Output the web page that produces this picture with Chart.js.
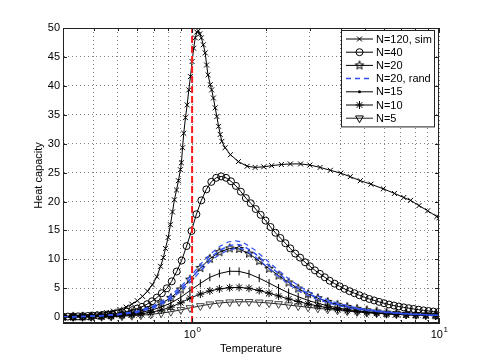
<!DOCTYPE html>
<html>
<head>
<meta charset="utf-8">
<script src="https://cdn.jsdelivr.net/npm/chart.js@4.4.1/dist/chart.umd.min.js"></script>
<style>
  html, body { margin: 0; padding: 0; background: #fff; }
  canvas { display: block; }
</style>
</head>
<body>
<canvas id="heatchart" width="484" height="364"></canvas>
<script>
// fine temperature grid, N=40
const fineTemps = [0.300, 0.314, 0.329, 0.345, 0.361, 0.378, 0.396, 0.414, 0.434, 0.454, 0.476, 0.498,
  0.522, 0.546, 0.572, 0.599, 0.627, 0.657, 0.688, 0.720, 0.754, 0.790, 0.827, 0.866, 0.907, 0.950,
  0.994, 1.041, 1.090, 1.142, 1.196, 1.252, 1.311, 1.373, 1.437, 1.505, 1.576, 1.651, 1.728, 1.810,
  1.895, 1.984, 2.078, 2.176, 2.278, 2.386, 2.498, 2.616, 2.739, 2.868, 3.003, 3.145, 3.293, 3.448,
  3.610, 3.780, 3.958, 4.145, 4.340, 4.545, 4.759, 4.983, 5.218, 5.463, 5.721, 5.990, 6.273, 6.568,
  6.878, 7.202, 7.541, 7.896, 8.268, 8.658, 9.066, 9.493, 9.940];
const capN40 = [0.10, 0.11, 0.13, 0.15, 0.18, 0.21, 0.27, 0.33, 0.39, 0.47, 0.56, 0.67,
  0.81, 1.0, 1.22, 1.5, 1.8, 2.25, 2.75, 3.4, 4.15, 5.0, 6.2, 7.9, 9.8, 12.3,
  14.9, 17.8, 20.2, 22.1, 23.4, 24.1, 24.35, 24.1, 23.5, 22.7, 21.7, 20.6, 19.7, 18.7,
  17.7, 16.7, 15.6, 14.6, 13.7, 12.8, 11.9, 11.0, 10.3, 9.5, 8.8, 8.1, 7.5, 6.9,
  6.3, 5.8, 5.35, 4.9, 4.5, 4.15, 3.8, 3.45, 3.15, 2.9, 2.65, 2.42, 2.2, 2.02,
  1.85, 1.7, 1.56, 1.43, 1.3, 1.18, 1.08, 0.98, 0.9];

// coarse temperature grid, N=20 .. N=5
const temps = [0.30, 0.33, 0.36, 0.39, 0.43, 0.47, 0.52, 0.57, 0.62, 0.68, 0.75, 0.82, 0.90, 0.98,
  1.08, 1.18, 1.29, 1.42, 1.55, 1.70, 1.87, 2.05, 2.24, 2.46, 2.69, 2.95, 3.23, 3.54, 3.88, 4.25,
  4.66, 5.10, 5.59, 6.13, 6.72, 7.36, 8.06, 8.84, 9.68, 10.0];
const capN20 = [0.05, 0.07, 0.10, 0.14, 0.22, 0.33, 0.52, 0.76, 1.08, 1.6, 2.4, 3.35, 4.8, 6.5,
  8.5, 10.1, 11.25, 11.9, 11.8, 11.0, 9.7, 8.4, 7.2, 6.0, 4.95, 4.0, 3.3, 2.65, 2.15, 1.78,
  1.45, 1.2, 0.98, 0.8, 0.67, 0.56, 0.47, 0.4, 0.34, 0.32];
const capN15 = [0.04, 0.06, 0.08, 0.11, 0.17, 0.25, 0.39, 0.58, 0.83, 1.2, 1.75, 2.45, 3.45, 4.6,
  5.85, 6.9, 7.55, 7.95, 7.92, 7.5, 6.75, 5.9, 5.05, 4.2, 3.55, 2.9, 2.4, 1.98, 1.6, 1.33,
  1.1, 0.91, 0.75, 0.62, 0.52, 0.44, 0.38, 0.32, 0.28, 0.26];
const capN10 = [0.03, 0.045, 0.06, 0.08, 0.12, 0.18, 0.28, 0.41, 0.57, 0.84, 1.24, 1.75, 2.5, 3.3,
  4.0, 4.55, 4.9, 5.1, 5.15, 5.0, 4.62, 4.15, 3.68, 3.15, 2.72, 2.3, 1.95, 1.63, 1.37, 1.16,
  0.97, 0.81, 0.68, 0.58, 0.49, 0.42, 0.36, 0.31, 0.26, 0.25];
const capN5 = [0.02, 0.03, 0.04, 0.055, 0.08, 0.11, 0.17, 0.25, 0.34, 0.49, 0.7, 0.95, 1.27, 1.6,
  1.95, 2.25, 2.46, 2.6, 2.66, 2.67, 2.58, 2.45, 2.3, 2.1, 1.91, 1.72, 1.53, 1.36, 1.19, 1.04,
  0.91, 0.79, 0.69, 0.6, 0.53, 0.46, 0.41, 0.36, 0.31, 0.3];

// simulation, N=120
const simTemps = [0.30, 0.33, 0.36, 0.39, 0.42, 0.45, 0.48, 0.51, 0.54, 0.57, 0.60, 0.63, 0.66, 0.69, 0.72,
  0.745, 0.765, 0.78, 0.80, 0.817, 0.833, 0.848, 0.865, 0.88, 0.897, 0.905, 0.915, 0.925, 0.94, 0.955,
  0.97, 0.985, 1.0, 1.015, 1.03, 1.045, 1.06, 1.075, 1.09, 1.11, 1.13, 1.145, 1.16, 1.185, 1.2, 1.22,
  1.24, 1.26, 1.28, 1.30, 1.32, 1.36, 1.43, 1.54, 1.67, 1.8, 1.95, 2.1, 2.3, 2.5, 2.75, 3.0, 3.3,
  3.63, 4.0, 4.37, 4.8, 5.3, 5.95, 6.6, 7.2, 7.67, 8.3, 9.0, 9.8, 10.0];
const simN120 = [0.15, 0.22, 0.32, 0.45, 0.6, 0.8, 1.05, 1.35, 1.75, 2.25, 2.85, 3.6, 4.5, 5.6, 7.0,
  8.8, 10.3, 11.9, 13.8, 16.0, 18.2, 20.3, 22.0, 23.6, 25.5, 26.7, 29.3, 31.8, 34.5, 36.7,
  39.3, 41.6, 44.2, 46.5, 48.3, 49.3, 49.5, 49.0, 48.3, 47.1, 45.7, 43.6, 41.9, 40.2, 39.3, 37.9,
  36.2, 34.7, 33.0, 31.6, 30.4, 29.3, 28.1, 26.9, 26.1, 25.9, 26.0, 26.2, 26.4, 26.5, 26.5, 26.3, 25.9,
  25.4, 24.9, 24.3, 23.6, 23.0, 22.2, 21.4, 20.7, 20.2, 19.3, 18.4, 17.4, 17.2];

// random-coupling runs, N=20 (mean and spread)
const randTemps = [0.3, 0.4, 0.5, 0.6, 0.7, 0.8, 0.9, 1.0, 1.1, 1.2, 1.3, 1.4, 1.5, 1.6, 1.8, 2.0,
  2.25, 2.5, 2.8, 3.2, 3.6, 4.0, 4.5, 5.0, 6.0, 7.0, 8.0, 9.0, 10.0];
const randN20 = [0.05, 0.17, 0.45, 0.95, 1.8, 3.1, 4.9, 6.9, 8.9, 10.5, 11.6, 12.3, 12.6, 12.4, 11.0, 9.3,
  7.5, 5.9, 4.6, 3.4, 2.6, 2.1, 1.6, 1.3, 0.9, 0.66, 0.5, 0.4, 0.33];
const randN20Hi = [0.06, 0.19, 0.5, 1.05, 2.0, 3.4, 5.3, 7.4, 9.5, 11.1, 12.3, 13.0, 13.2, 13.0, 11.6, 9.9,
  8.0, 6.4, 5.0, 3.7, 2.85, 2.3, 1.75, 1.4, 0.98, 0.72, 0.55, 0.44, 0.36];
const randN20Lo = [0.04, 0.15, 0.4, 0.85, 1.6, 2.8, 4.5, 6.4, 8.3, 9.9, 10.9, 11.6, 11.9, 11.8, 10.5, 8.8,
  7.0, 5.5, 4.2, 3.1, 2.4, 1.9, 1.45, 1.2, 0.82, 0.6, 0.46, 0.37, 0.3];

// critical temperature marker
const critTemp = [1, 1];
const critCap = [-1, 50];

const yTicks = [0, 5, 10, 15, 20, 25, 30, 35, 40, 45, 50];
const xGrid = [0.4, 0.5, 0.6, 0.7, 0.8, 0.9, 1, 2, 3, 4, 5, 6, 7, 8, 9, 10];
const xLabels = [1, 10];

const FONT = "'Liberation Sans', Arial, Helvetica, sans-serif";
const pts = (xs, ys) => xs.map((x, i) => ({ x: x, y: ys[i] }));

function pentagram(r) {
  const c = document.createElement("canvas");
  const s = Math.ceil(r * 2 + 3);
  c.width = s;
  c.height = s;
  const g = c.getContext("2d");
  g.strokeStyle = "#000";
  g.lineWidth = 1;
  g.beginPath();
  for (let i = 0; i < 10; i++) {
    const rr = i % 2 ? r * 0.42 : r;
    const a = -Math.PI / 2 + (i * Math.PI) / 5;
    const px = s / 2 + rr * Math.cos(a);
    const py = s / 2 + rr * Math.sin(a);
    if (i) g.lineTo(px, py);
    else g.moveTo(px, py);
  }
  g.closePath();
  g.stroke();
  return c;
}
const starImg = pentagram(4.5);

function curve(label, xs, ys, marker) {
  return Object.assign({
    label: label,
    data: pts(xs, ys),
    borderColor: "#000",
    borderWidth: 1,
    pointBorderColor: "#000",
    pointBackgroundColor: "rgba(0,0,0,0)",
    pointBorderWidth: 1,
    pointRadius: 4,
    pointRotation: 0,
    showLine: true,
  }, marker);
}

const blue = "#3050f0";
const datasets = [
  {
    label: "",
    data: pts(critTemp, critCap),
    borderColor: "#ff1a1a",
    borderWidth: 2,
    borderDash: [7, 3],
    pointRadius: 0,
    showLine: true,
  },
  curve("N=20, rand", randTemps, randN20, { borderColor: blue, borderWidth: 1.5, borderDash: [5, 4], pointRadius: 0 }),
  curve("", randTemps, randN20Hi, { borderColor: blue, borderWidth: 1.2, borderDash: [5, 4], pointRadius: 0 }),
  curve("", randTemps, randN20Lo, { borderColor: blue, borderWidth: 1.2, borderDash: [5, 4], pointRadius: 0 }),
  curve("N=120, sim", simTemps, simN120, { pointStyle: "crossRot", pointRadius: 3.5 }),
  curve("N=40", fineTemps, capN40, { pointStyle: "circle", pointRadius: 3.5 }),
  curve("N=20", temps, capN20, { pointStyle: starImg }),
  curve("N=15", temps, capN15, { pointStyle: "line", pointRotation: 90, pointRadius: 4, legendDot: true }),
  curve("N=10", temps, capN10, { pointStyle: "star", pointRadius: 4 }),
  curve("N=5", temps, capN5, { pointStyle: "triangle", pointRotation: 180, pointRadius: 4.5, borderColor: "#222", pointBorderColor: "#444" }),
];

const legendOrder = ["N=120, sim", "N=40", "N=20", "N=20, rand", "N=15", "N=10", "N=5"];

// axes box, inward ticks, x tick labels and legend
const decorations = {
  id: "decorations",
  afterDraw(chart) {
    const ctx = chart.ctx;
    const a = chart.chartArea;
    const xs = chart.scales.x;
    const ys = chart.scales.y;
    ctx.save();
    ctx.strokeStyle = "#222";
    ctx.lineWidth = 1;
    ctx.setLineDash([]);
    ctx.strokeRect(a.left + 0.5, a.top + 0.5, a.right - a.left - 1, a.bottom - a.top - 1);
    ctx.beginPath();
    yTicks.forEach((v) => {
      const py = Math.round(ys.getPixelForValue(v)) + 0.5;
      ctx.moveTo(a.left, py); ctx.lineTo(a.left + 4, py);
      ctx.moveTo(a.right, py); ctx.lineTo(a.right - 4, py);
    });
    xGrid.forEach((v) => {
      const px = Math.round(xs.getPixelForValue(v)) + 0.5;
      const len = xLabels.includes(v) ? 5 : 3;
      ctx.moveTo(px, a.bottom); ctx.lineTo(px, a.bottom - len);
      ctx.moveTo(px, a.top); ctx.lineTo(px, a.top + len);
    });
    ctx.stroke();

    // 10^n labels
    ctx.fillStyle = "#000";
    ctx.textBaseline = "alphabetic";
    xLabels.forEach((v) => {
      const px = xs.getPixelForValue(v);
      const exp = String(Math.round(Math.log10(v)));
      ctx.font = "11px " + FONT;
      const wBase = ctx.measureText("10").width;
      ctx.font = "8px " + FONT;
      const wExp = ctx.measureText(exp).width;
      const x0 = px - (wBase + wExp) / 2;
      ctx.font = "11px " + FONT;
      ctx.textAlign = "left";
      ctx.fillText("10", x0, a.bottom + 15);
      ctx.font = "8px " + FONT;
      ctx.fillText(exp, x0 + wBase + 0.5, a.bottom + 9);
    });

    // legend
    const bx = a.right - 98, by = a.top + 2, bw = 93, rowH = 13.2;
    const bh = rowH * legendOrder.length + 4;
    ctx.fillStyle = "#fff";
    ctx.fillRect(bx, by, bw, bh);
    ctx.strokeStyle = "#222";
    ctx.strokeRect(bx + 0.5, by + 0.5, bw, bh);
    legendOrder.forEach((name, i) => {
      const ds = chart.data.datasets.find((d) => d.label === name);
      const cy = by + 9 + i * rowH;
      ctx.save();
      ctx.strokeStyle = ds.borderColor;
      ctx.lineWidth = ds.borderWidth;
      ctx.setLineDash(ds.borderDash || []);
      ctx.beginPath();
      ctx.moveTo(bx + 5, cy);
      ctx.lineTo(bx + 32, cy);
      ctx.stroke();
      ctx.setLineDash([]);
      if (ds.pointRadius > 0) {
        ctx.strokeStyle = "#000";
        ctx.fillStyle = "rgba(0,0,0,0)";
        ctx.lineWidth = 1;
        if (ds.legendDot) {
          ctx.fillStyle = "#000";
          ctx.beginPath();
          ctx.arc(bx + 18.5, cy, 1.5, 0, Math.PI * 2);
          ctx.fill();
        } else {
          Chart.helpers.drawPoint(ctx, {
            pointStyle: ds.pointStyle,
            rotation: ds.pointRotation || 0,
            radius: ds.pointRadius,
            borderWidth: 1,
          }, bx + 18.5, cy);
        }
      }
      ctx.restore();
      ctx.fillStyle = "#000";
      ctx.font = "11px " + FONT;
      ctx.textAlign = "left";
      ctx.textBaseline = "middle";
      ctx.fillText(name, bx + 35, cy + 0.5);
    });
    ctx.restore();
  },
};

new Chart(document.getElementById("heatchart"), {
  type: "scatter",
  data: { datasets: datasets },
  plugins: [decorations],
  options: {
    responsive: false,
    animation: false,
    layout: { padding: { left: 0, right: 45, top: 28, bottom: 0 } },
    elements: { line: { tension: 0 } },
    plugins: {
      legend: { display: false },
      tooltip: { enabled: false },
    },
    scales: {
      x: {
        type: "logarithmic",
        min: 0.3,
        max: 10,
        afterBuildTicks: (s) => { s.ticks = xGrid.map((v) => ({ value: v })); },
        afterFit: (s) => { s.height = 41; },
        ticks: { display: false },
        grid: { color: "rgba(0,0,0,0.5)", drawTicks: false, lineWidth: 1 },
        border: { color: "#222", dash: [1, 3] },
        title: {
          display: true,
          text: "Temperature",
          color: "#000",
          font: { family: FONT, size: 11 },
          padding: { top: 0, bottom: 8 },
        },
      },
      y: {
        min: -1,
        max: 50,
        afterBuildTicks: (s) => { s.ticks = yTicks.map((v) => ({ value: v })); },
        afterFit: (s) => { s.width = 63; },
        ticks: { color: "#000", padding: 3, font: { family: FONT, size: 11 } },
        grid: { color: "rgba(0,0,0,0.5)", drawTicks: false, lineWidth: 1 },
        border: { color: "#222", dash: [1, 3] },
        title: {
          display: true,
          text: "Heat capacity",
          color: "#000",
          font: { family: FONT, size: 11 },
          padding: { top: 32, bottom: 0 },
        },
      },
    },
  },
});
</script>
</body>
</html>
